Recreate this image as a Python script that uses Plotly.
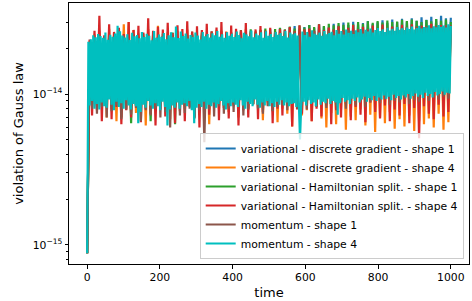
import numpy as np
import plotly.graph_objects as go

SCALE = 1e-16  # values below are in units of 1e-16

names = [
    "variational - discrete gradient - shape 1",
    "variational - discrete gradient - shape 4",
    "variational - Hamiltonian split. - shape 1",
    "variational - Hamiltonian split. - shape 4",
    "momentum - shape 1",
    "momentum - shape 4",
]
colors = ["#1f77b4", "#ff7f0e", "#2ca02c", "#d62728", "#8c564b", "#00bfbf"]

dg_shape1 = [
    8.8, 215, 85, 232, 88, 228, 84, 236, 87, 230,
    86, 234, 83, 241, 89, 229, 85, 238, 88, 233,
    84, 240, 90, 231, 86, 244, 83, 236, 89, 239,
    87, 242, 85, 235, 91, 246, 84, 238, 88, 243,
    86, 239, 90, 248, 85, 236, 89, 245, 87, 250,
    91, 241, 86, 252, 88, 244, 92, 249, 85, 256,
    89, 247, 93, 258, 87, 251, 90, 262, 94, 254,
    88, 265, 92, 257, 95, 268, 90, 260, 93, 272,
    96, 263, 91, 275, 94, 282, 97, 269, 92, 278,
    95, 286, 98, 274, 93, 290, 97, 281, 99, 276,
    94, 292, 100, 284, 96, 298, 99, 287, 95, 301,
    98, 289, 102, 295, 97, 305, 100, 291, 103, 299,
    99, 308, 101, 296, 104, 312, 98, 300, 102, 315,
    103, 302, 100, 318, 105, 306, 101, 322, 104, 310,
    102, 325, 106, 313, 103, 330, 105, 317, 107, 320,
]
dg_shape4 = [
    8.8, 225, 82, 248, 78, 262, 85, 240, 70, 271,
    80, 255, 66, 244, 84, 290, 79, 300, 83, 265,
    75, 252, 81, 241, 62, 270, 86, 248, 80, 283,
    84, 239, 77, 257, 68, 246, 82, 262, 85, 243,
    79, 268, 83, 250, 72, 241, 86, 258, 81, 247,
    63, 253, 84, 266, 80, 244, 87, 259, 76, 249,
    85, 262, 70, 251, 83, 268, 79, 246, 86, 257,
    81, 249, 67, 263, 84, 254, 77, 245, 65, 260,
    80, 256, 74, 248, 61, 265, 83, 252, 72, 259,
    78, 262, 66, 250, 82, 258, 69, 255, 60, 264,
    75, 251, 63, 267, 80, 256, 58, 261, 71, 253,
    67, 266, 79, 258, 62, 270, 73, 262, 56, 268,
    70, 259, 64, 272, 76, 265, 59, 270, 68, 263,
    61, 274, 72, 266, 57, 271, 66, 276, 63, 268,
    69, 273, 60, 279, 74, 270, 58, 276, 65, 281,
]
hs_shape1 = [
    8.8, 218, 86, 235, 84, 240, 88, 231, 85, 244,
    83, 237, 87, 246, 70, 233, 86, 241, 64, 249,
    85, 238, 82, 252, 88, 240, 66, 247, 84, 236,
    87, 251, 83, 242, 86, 256, 63, 239, 88, 248,
    84, 245, 87, 258, 82, 241, 89, 253, 85, 247,
    90, 259, 86, 244, 88, 262, 84, 250, 91, 256,
    87, 252, 92, 265, 88, 257, 90, 268, 86, 260,
    93, 266, 89, 272, 91, 258, 94, 270, 88, 275,
    92, 268, 95, 280, 90, 272, 96, 284, 93, 276,
    97, 286, 92, 278, 98, 290, 95, 282, 99, 292,
    94, 285, 100, 295, 96, 288, 99, 298, 97, 290,
    101, 300, 98, 292, 102, 303, 99, 296, 103, 305,
    100, 298, 104, 307, 101, 300, 105, 302, 99, 310,
    103, 304, 106, 312, 102, 306, 104, 300, 107, 309,
    105, 303, 108, 314, 104, 306, 107, 311, 106, 300,
]
hs_shape4 = [
    8.8, 230, 72, 262, 80, 330, 66, 245, 84, 290,
    68, 258, 82, 275, 63, 250, 78, 300, 70, 266,
    85, 283, 65, 256, 80, 318, 74, 262, 62, 279,
    79, 268, 71, 296, 84, 254, 64, 285, 77, 270,
    66, 303, 82, 259, 70, 281, 60, 266, 79, 292,
    73, 260, 85, 276, 67, 300, 81, 258, 69, 284,
    83, 271, 62, 264, 78, 295, 70, 256, 86, 268,
    68, 282, 76, 262, 88, 275, 64, 258, 80, 270,
    72, 266, 85, 278, 61, 260, 79, 285, 74, 268,
    87, 272, 66, 262, 80, 290, 71, 265, 84, 276,
    63, 268, 78, 281, 70, 264, 86, 275, 67, 286,
    82, 270, 73, 279, 65, 266, 88, 284, 76, 272,
    69, 289, 84, 275, 66, 280, 79, 270, 72, 288,
    86, 276, 64, 290, 81, 279, 51, 284, 83, 274,
    74, 292, 68, 281, 85, 287, 71, 278, 76, 285,
]
mom_shape1 = [
    8.8, 220, 80, 238, 74, 245, 82, 232, 70, 240,
    77, 241, 84, 236, 68, 242, 79, 234, 73, 238,
    81, 237, 66, 240, 78, 245, 72, 233, 80, 239,
    70, 242, 76, 241, 60, 239, 82, 236, 72, 243,
    75, 244, 80, 247, 69, 238, 78, 241, 48, 244,
    79, 240, 71, 245, 83, 248, 74, 237, 80, 242,
    76, 246, 82, 239, 72, 251, 79, 243, 85, 248,
    80, 241, 74, 253, 83, 246, 77, 255, 82, 249,
    84, 252, 78, 245, 86, 258, 80, 250, 85, 256,
    79, 248, 87, 260, 82, 253, 88, 258, 81, 262,
    86, 255, 83, 264, 89, 258, 80, 266, 87, 260,
    84, 268, 90, 262, 82, 270, 88, 264, 91, 272,
    87, 266, 92, 274, 85, 268, 90, 276, 88, 270,
    93, 278, 86, 272, 91, 280, 89, 275, 94, 282,
    90, 277, 95, 284, 92, 279, 96, 286, 93, 280,
]
mom_shape4 = [
    8.8, 222, 84, 231, 90, 245, 80, 238, 86, 250,
    79, 242, 88, 236, 83, 256, 81, 229, 92, 247,
    85, 240, 78, 252, 89, 283, 82, 261, 87, 244,
    80, 237, 91, 249, 84, 228, 79, 255, 86, 241,
    83, 246, 64, 234, 76, 258, 85, 239, 81, 251,
    90, 243, 84, 227, 80, 262, 87, 236, 83, 248,
    78, 240, 89, 254, 82, 231, 62, 245, 79, 257,
    84, 238, 81, 280, 88, 235, 80, 260, 85, 242,
    87, 252, 83, 233, 90, 246, 78, 239, 64, 256,
    81, 244, 86, 230, 82, 258, 89, 241, 80, 250,
    85, 237, 83, 253, 88, 245, 81, 262, 86, 240,
    90, 249, 84, 236, 79, 257, 87, 243, 83, 251,
    88, 239, 85, 260, 82, 246, 91, 234, 84, 255,
    80, 248, 89, 241, 86, 264, 83, 238, 92, 252,
    85, 245, 81, 257, 88, 236, 84, 261, 90, 243,
    83, 250, 87, 239, 82, 258, 89, 247, 85, 254,
    91, 242, 84, 263, 88, 237, 83, 256, 86, 249,
    87, 253, 82, 244, 90, 50, 85, 260, 89, 246,
    84, 258, 91, 240, 86, 265, 88, 251, 83, 247,
    92, 256, 85, 243, 89, 262, 87, 249, 93, 254,
    86, 259, 90, 245, 88, 266, 73, 251, 87, 262,
    94, 248, 89, 268, 91, 255, 86, 263, 93, 250,
    90, 265, 95, 257, 88, 270, 92, 252, 96, 267,
    89, 260, 94, 272, 91, 256, 97, 266, 90, 274,
    95, 262, 92, 269, 98, 258, 93, 275, 96, 264,
    91, 271, 99, 263, 94, 278, 97, 267, 92, 273,
    98, 266, 95, 276, 100, 270, 93, 280, 97, 268,
    101, 274, 96, 283, 99, 272, 94, 278, 102, 276,
    97, 285, 100, 273, 95, 281, 103, 277, 98, 287,
    100, 279, 104, 284, 99, 276, 102, 290, 101, 282,
]

series = [dg_shape1, dg_shape4, hs_shape1, hs_shape4, mom_shape1, mom_shape4]
T_END = 1000

x_ticks = [0, 200, 400, 600, 800, 1000]
y_ticks = [1e-15, 1e-14]
y_ticktext = ["10<sup>\u221215</sup>", "10<sup>\u221214</sup>"]
y_minor = [8e-16, 9e-16] + [k * 1e-15 for k in range(2, 10)] + [2e-14, 3e-14]

fig = go.Figure()
for name, color, vals in zip(names, colors, series):
    v = np.array(vals) * SCALE
    t = np.linspace(0, T_END, len(v))
    fig.add_trace(go.Scatter(x=t, y=v, mode="lines", name=name,
                             line=dict(color=color, width=2.2)))

FS = 10.8
W, H = 472, 301
L, R, T, B = 69, 469, 3, 264
fig.update_layout(
    width=W, height=H,
    margin=dict(l=L, r=W - R, t=T, b=H - B, autoexpand=False),
    paper_bgcolor="white", plot_bgcolor="white",
    font=dict(family="DejaVu Sans", size=FS, color="black"),
    showlegend=True,
    legend=dict(
        x=(463.7 - L) / (R - L), xanchor="right",
        y=(B - 259) / (B - T), yanchor="bottom",
        bgcolor="rgba(255,255,255,0.8)", bordercolor="#cccccc", borderwidth=1,
        font=dict(size=FS), tracegroupgap=0, itemwidth=30,
    ),
)
fig.update_xaxes(
    range=[-50, 1050], tickvals=x_ticks, ticks="outside", ticklen=3.5,
    tickcolor="black", showline=True, linecolor="black", linewidth=1,
    mirror=True, showgrid=False, zeroline=False, automargin=False,
    title=dict(text="time", standoff=4),
)
fig.update_yaxes(
    type="log", range=[np.log10(7.48e-16), np.log10(4.01e-14)],
    tickvals=y_ticks, ticktext=y_ticktext, ticks="outside", ticklen=3.5,
    tickcolor="black", showline=True, linecolor="black", linewidth=1,
    mirror=True, showgrid=False, zeroline=False, automargin=False,
    minor=dict(tickvals=y_minor, ticks="outside", ticklen=2, tickcolor="black"),
    title=dict(text="violation of Gauss law", standoff=6),
)

fig.write_html("out.html", config={"displayModeBar": False},
               post_script="document.body.style.margin='0';document.body.style.padding='0';")
